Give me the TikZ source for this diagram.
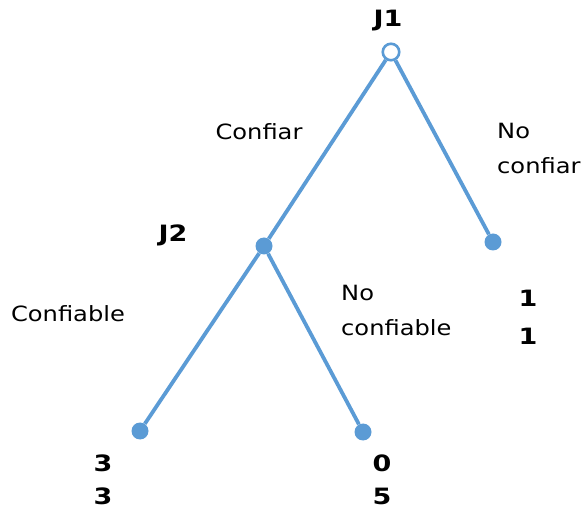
\documentclass[tikz,border=0pt]{standalone}
\usepackage{fontspec}
\newfontfamily\lbl[FakeStretch=1.15]{DejaVu Sans}
\newfontfamily\numfont[FakeStretch=1.2]{DejaVu Sans Bold}
\definecolor{edgeblue}{HTML}{5B9BD5}
\begin{document}
\begin{tikzpicture}[x=1pt,y=-1pt,
  edge/.style={draw=edgeblue,line width=3.8pt},
  opendot/.style={circle,draw=edgeblue,fill=white,line width=2.6pt,minimum size=16.5pt,inner sep=0pt},
  fulldot/.style={circle,fill=edgeblue,minimum size=17pt,inner sep=0pt},
  lab/.style={font=\lbl\fontsize{21}{35}\selectfont,inner sep=0pt},
  num/.style={font=\numfont\fontsize{22.5}{35}\selectfont,inner sep=0pt}]
\useasboundingbox (0,0) rectangle (581,510);
\node[opendot] (j1) at (391,52) {};
\node[fulldot] (j2) at (264,246) {};
\node[fulldot] (r) at (493,242) {};
\node[fulldot] (ll) at (140,431) {};
\node[fulldot] (lr) at (363,432) {};
\draw[edge] (j1) -- (j2);
\draw[edge] (j1) -- (r);
\draw[edge] (j2) -- (ll);
\draw[edge] (j2) -- (lr);
\node[num] (t1) at (388,21) {J1};
\node[num] (t2) at (173,235) {J2};
\node[lab] (a1) at (259,132) {Confiar};
\node[lab,align=left,anchor=west] (a2) at (497,148) {No\\confiar};
\node[lab] (a3) at (68,314) {Confiable};
\node[lab,align=left,anchor=west] (a4) at (341,310) {No\\confiable};
\node[num] (p1) at (528,298) {1};
\node[num] (p2) at (528,336) {1};
\node[num] (p3) at (103,463) {3};
\node[num] (p4) at (103,496) {3};
\node[num] (p5) at (382,463) {0};
\node[num] (p6) at (382,496) {5};
\end{tikzpicture}
\end{document}
